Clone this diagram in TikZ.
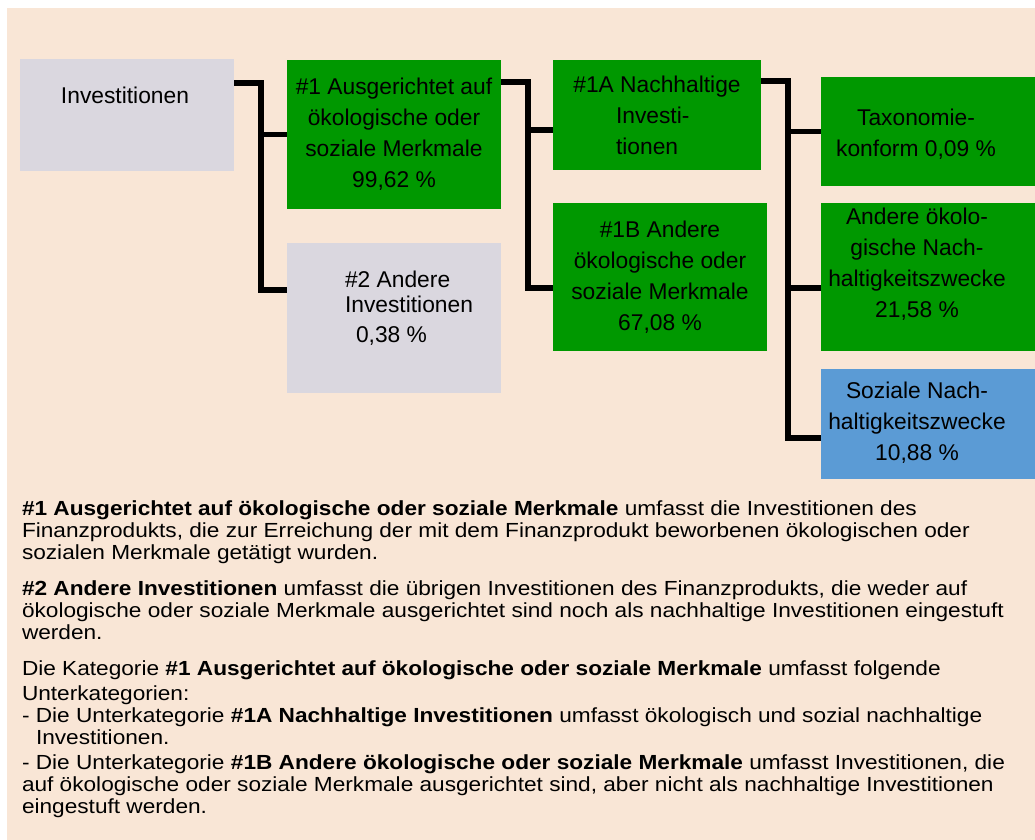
\documentclass[tikz,border=0pt]{standalone}
\usepackage{fontspec}
\setmainfont{Liberation Sans}
\newfontfamily\bodyfam{Liberation Sans}[FakeStretch=1.11]
\newcommand\boxfnt{\fontsize{11.4}{15.5}\selectfont}
\newcommand\bodyfnt{\bodyfam\fontsize{10.2}{11}\selectfont}
\definecolor{cbg}{RGB}{249,230,214}
\definecolor{cgreen}{RGB}{0,152,0}
\definecolor{cgrey}{RGB}{218,215,223}
\definecolor{cblue}{RGB}{91,155,213}
\tikzset{
  conn/.style={line width=2.6pt, line join=miter, draw=black},
  box/.style={inner sep=0pt, outer sep=0pt, draw=none, font=\boxfnt, align=center},
  greenbox/.style={box, fill=cgreen},
  greybox/.style={box, fill=cgrey},
  bluebox/.style={box, fill=cblue},
  boxtxt/.style={inner sep=0pt, outer sep=0pt, font=\boxfnt, align=center},
  bodytxt/.style={inner sep=0pt, outer sep=0pt, font=\bodyfnt, align=left, anchor=north west},
}
\begin{document}
\begin{tikzpicture}[x=0.5pt,y=-0.5pt]
\useasboundingbox (0,0) rectangle (1035,840);
\fill[white] (0,0) rectangle (1035,840);
\fill[cbg] (7,8) rectangle (1035,840);

% boxes
\node[greybox, minimum width=107pt, minimum height=56pt] (inv) at (127,115) {};
\node[greenbox, minimum width=107pt, minimum height=74.5pt] (n1) at (394,134.5)
  {\#1 Ausgerichtet auf\\ökologische oder\\soziale Merkmale\\99,62~\%};
\node[greybox, minimum width=107pt, minimum height=75pt] (n2) at (394,318) {};
\node[greenbox, minimum width=104pt, minimum height=55pt] (n1a) at (657,115)
  {\#1A Nachhaltige\\\makebox[41pt][l]{Investi-}\\\makebox[41pt][l]{tionen}};
\node[greenbox, minimum width=107pt, minimum height=74pt] (n1b) at (660,277)
  {\#1B Andere\\ökologische oder\\soziale Merkmale\\67,08~\%};
\node[greenbox, minimum width=107pt, minimum height=54.5pt] (tax) at (928,131.5) {};
\node[greenbox, minimum width=107pt, minimum height=74pt] (oth) at (928,277) {};
\node[bluebox, minimum width=107pt, minimum height=55pt] (soz) at (928,424) {};

% box texts placed off-centre
\node[boxtxt, anchor=base] (tinv) at (125,104) {Investitionen};
\node[boxtxt, align=left, anchor=north west] (tn2) at (345,265)
  {\rule{0pt}{11pt}\#2 Andere\\[-2.5pt]Investitionen\\[-0.5pt]\hspace{5.5pt}0,38~\%};
\node[boxtxt, anchor=north] (ttax) at (916,104)
  {\rule{0pt}{11pt}Taxonomie-\\konform 0,09~\%};
\node[boxtxt, anchor=north] (toth) at (917,202)
  {\rule{0pt}{11pt}Andere ökolo-\\gische Nach-\\haltigkeitszwecke\\21,58~\%};
\node[boxtxt, anchor=north] (tsoz) at (917,376)
  {\rule{0pt}{11pt}Soziale Nach-\\haltigkeitszwecke\\10,88~\%};

% ports
\coordinate (ja) at (261,0);
\coordinate (jb) at (528,0);
\coordinate (jc) at (788,0);
\coordinate (invout) at ([yshift=-12pt]inv.north east);
\coordinate (n2in) at ([yshift=14pt]n2.west);
\coordinate (n1out) at ([yshift=-11pt]n1.north east);
\coordinate (n1ain) at ([yshift=-7.5pt]n1a.west);
\coordinate (n1bin) at ([yshift=-5.5pt]n1b.west);
\coordinate (n1aout) at ([yshift=-10.5pt]n1a.north east);
\coordinate (taxin) at (tax.west);
\coordinate (othin) at ([yshift=-5.5pt]oth.west);
\coordinate (sozin) at ([yshift=-7pt]soz.west);

% connectors
\draw[conn] (invout) -| (ja |- n2in) -- (n2in);
\draw[conn] (ja |- n1.west) -- (n1.west);
\draw[conn] (n1out) -| (jb |- n1bin) -- (n1bin);
\draw[conn] (jb |- n1ain) -- (n1ain);
\draw[conn] (n1aout) -| (jc |- sozin) -- (sozin);
\draw[conn] (jc |- taxin) -- (taxin);
\draw[conn] (jc |- othin) -- (othin);

% explanatory text
\node[bodytxt] (p1) at (22,495)
  {\rule{0pt}{10pt}\textbf{\#1 Ausgerichtet auf ökologische oder soziale Merkmale} umfasst die Investitionen des\\
   Finanzprodukts, die zur Erreichung der mit dem Finanzprodukt beworbenen ökologischen oder\\
   sozialen Merkmale getätigt wurden.};
\node[bodytxt] (p2) at (22,575)
  {\rule{0pt}{10pt}\textbf{\#2 Andere Investitionen} umfasst die übrigen Investitionen des Finanzprodukts, die weder auf\\
   ökologische oder soziale Merkmale ausgerichtet sind noch als nachhaltige Investitionen eingestuft\\
   werden.};
\node[bodytxt] (p3) at (22,655)
  {\rule{0pt}{10pt}Die Kategorie \textbf{\#1 Ausgerichtet auf ökologische oder soziale Merkmale} umfasst folgende\\[1.5pt]
   Unterkategorien:};
\node[bodytxt] (p4) at (22,702)
  {\rule{0pt}{10pt}- Die Unterkategorie \textbf{\#1A Nachhaltige Investitionen} umfasst ökologisch und sozial nachhaltige\\
   \hspace{7pt}Investitionen.};
\node[bodytxt] (p5) at (22,749)
  {\rule{0pt}{10pt}- Die Unterkategorie \textbf{\#1B Andere ökologische oder soziale Merkmale} umfasst Investitionen, die\\
   auf ökologische oder soziale Merkmale ausgerichtet sind, aber nicht als nachhaltige Investitionen\\
   eingestuft werden.};
\end{tikzpicture}
\end{document}
